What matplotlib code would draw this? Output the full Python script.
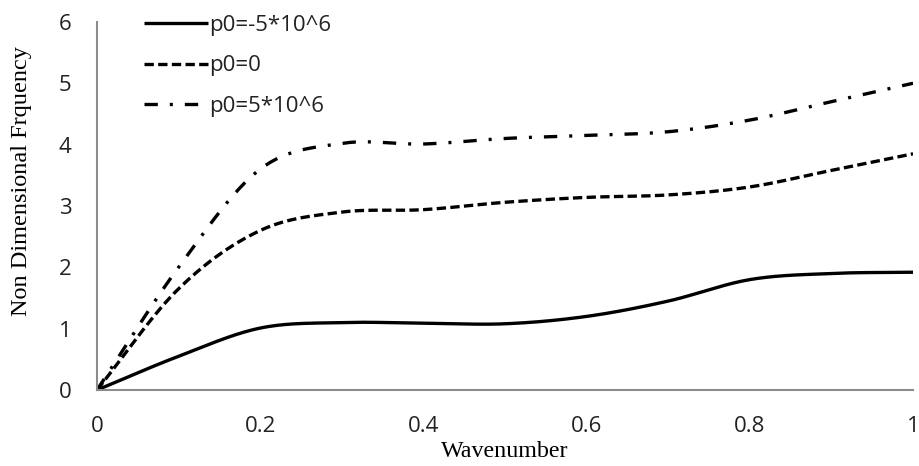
import numpy as np
import matplotlib
matplotlib.use("Agg")
import matplotlib.pyplot as plt

# Non-dimensional frequency versus wavenumber for three prestress levels
wavenumber = [0.0, 0.1, 0.2, 0.3, 0.4, 0.5, 0.6, 0.7, 0.8, 0.9, 1.0]
freq_neg = [0.0, 0.55, 1.01, 1.10, 1.09, 1.08, 1.20, 1.45, 1.80, 1.90, 1.92]
freq_zero = [0.0, 1.65, 2.60, 2.90, 2.94, 3.06, 3.14, 3.18, 3.31, 3.58, 3.85]
freq_pos = [0.0, 2.00, 3.60, 4.02, 4.01, 4.10, 4.15, 4.21, 4.40, 4.70, 5.00]
labels = ["p0=-5*10^6", "p0=0", "p0=5*10^6"]
x_ticks = [0, 0.2, 0.4, 0.6, 0.8, 1]
x_tick_labels = ["0", "0.2", "0.4", "0.6", "0.8", "1"]
y_ticks = [0, 1, 2, 3, 4, 5, 6]

SANS = ["Open Sans", "DejaVu Sans"]
SERIF = ["Liberation Serif", "DejaVu Serif"]


def smooth(x, y, n=30):
    """Catmull-Rom spline through the points, like a smoothed line chart."""
    x = np.asarray(x, float)
    y = np.asarray(y, float)
    px = np.concatenate([[2 * x[0] - x[1]], x, [2 * x[-1] - x[-2]]])
    py = np.concatenate([[2 * y[0] - y[1]], y, [2 * y[-1] - y[-2]]])
    xs, ys = [], []
    t = np.linspace(0, 1, n, endpoint=False)
    for i in range(1, len(px) - 2):
        for arr, out in ((px, xs), (py, ys)):
            p0, p1, p2, p3 = arr[i - 1], arr[i], arr[i + 1], arr[i + 2]
            out.append(0.5 * ((2 * p1) + (-p0 + p2) * t
                              + (2 * p0 - 5 * p1 + 4 * p2 - p3) * t ** 2
                              + (-p0 + 3 * p1 - 3 * p2 + p3) * t ** 3))
    xs = np.concatenate(xs + [[x[-1]]])
    ys = np.concatenate(ys + [[y[-1]]])
    return xs, ys


fig = plt.figure(figsize=(9.19, 4.66), dpi=100)
ax = fig.add_axes([0.1055, 0.163, 0.888, 0.79])

lw = 2.4
styles = [
    dict(linestyle="-"),
    dict(linestyle=(0, (2.8, 1.3))),
    dict(linestyle=(0, (4.0, 3.6, 0.9, 3.6))),
]
for ys, lab, st in zip([freq_neg, freq_zero, freq_pos], labels, styles):
    sx, sy = smooth(wavenumber, ys)
    ax.plot(sx, sy, color="black", lw=lw, label=lab, solid_capstyle="butt",
            dash_capstyle="butt", **st)

ax.set_xlim(0, 1)
ax.set_ylim(0, 6)
ax.set_xticks(x_ticks)
ax.set_xticklabels(x_tick_labels, family=SANS, fontsize=16, color="#222222")
ax.set_yticks(y_ticks)
ax.set_yticklabels([str(v) for v in y_ticks], family=SANS, fontsize=16, color="#222222")
ax.tick_params(length=0)
ax.tick_params(axis="y", pad=18.5)
ax.tick_params(axis="x", pad=19)

for side in ("top", "right"):
    ax.spines[side].set_visible(False)
for side in ("left", "bottom"):
    ax.spines[side].set_color("#8c8c8c")
    ax.spines[side].set_linewidth(1.5)

ax.set_xlabel("Wavenumber", family=SERIF, fontsize=17.3, va="center")
ax.xaxis.set_label_coords(0.5, -0.168)
ax.set_ylabel("Non Dimensional Frquency", family=SERIF, fontsize=17.5, va="center")
ax.yaxis.set_label_coords(-0.093, 0.568)

leg = ax.legend(loc="upper left", bbox_to_anchor=(0.047, 1.044), frameon=False,
                prop={"family": SANS, "size": 16}, handlelength=2.88,
                handletextpad=0.02, labelspacing=0.89, borderaxespad=0)
for t in leg.get_texts():
    t.set_color("#222222")

fig.savefig("out.png", dpi=100)
